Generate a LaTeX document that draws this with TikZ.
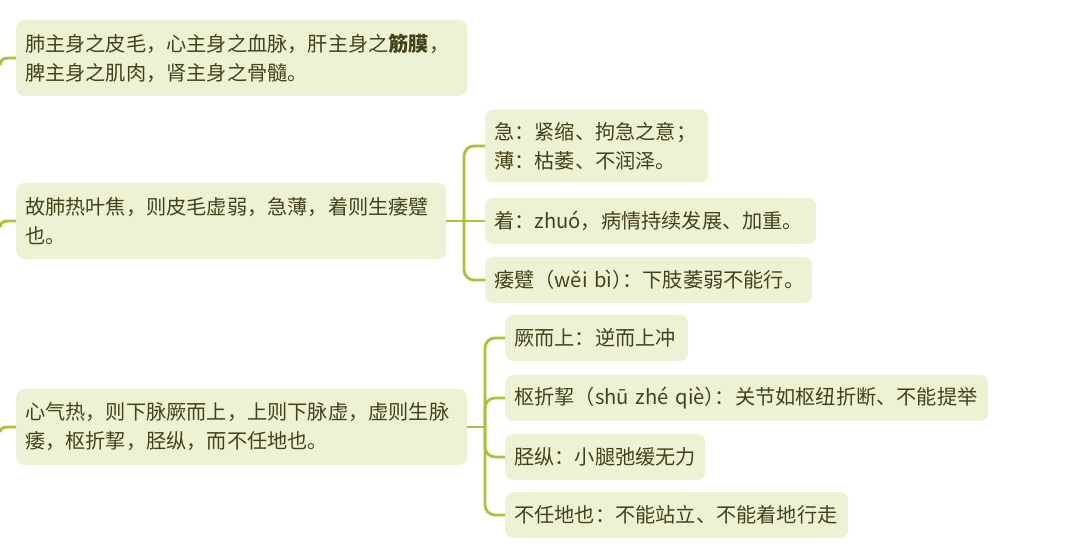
\documentclass[tikz,border=0pt]{standalone}
\usepackage{fontspec}
\setmainfont{Noto Sans CJK SC}
\definecolor{boxfill}{HTML}{EEF2D5}
\definecolor{linkgreen}{HTML}{A6C437}
\definecolor{txtolive}{HTML}{45421A}
\newcommand{\pyclose}{）\kern-0.5em：}
\begin{document}
\begin{tikzpicture}[x=1pt, y=-1pt,
  font=\fontsize{20.2}{29}\selectfont, text=txtolive,
  topic/.style={fill=boxfill, rounded corners=8pt, anchor=west, align=left, inner xsep=9pt, minimum height=76pt},
  leaf/.style={fill=boxfill, rounded corners=8pt, anchor=west, align=left, inner xsep=9pt, minimum height=46pt},
  link/.style={draw=linkgreen, line width=2.8pt, rounded corners=10pt}]
  \useasboundingbox (0,0) rectangle (1080,545);
  % main points
  \node[topic, text width=433pt] (skin) at (16,58) {肺主身之皮毛，心主身之血脉，肝主身之\textbf{筋膜}，\\脾主身之肌肉，肾主身之骨髓。};
  \node[topic, text width=412pt] (lung) at (16,221) {故肺热叶焦，则皮毛虚弱，急薄，着则生痿躄\\也。};
  \node[topic, text width=433pt] (heart) at (16,427) {心气热，则下脉厥而上，上则下脉虚，虚则生脉\\痿，枢折挈，胫纵，而不任地也。};
  % notes on lung heat
  \node[topic, text width=205pt, minimum height=73pt] (ji) at (485,146) {急：紧缩、拘急之意；\\薄：枯萎、不润泽。};
  \node[leaf, text width=313pt] (zhuo) at (485,221) {着：zhuó，病情持续发展、加重。};
  \node[leaf, text width=309pt] (weibi) at (485,280) {痿躄（wěi~bì\pyclose 下肢萎弱不能行。};
  % notes on heart heat
  \node[leaf, text width=165pt] (jue) at (505,338) {厥而上：逆而上冲};
  \node[leaf, text width=465pt] (shu) at (505,398) {枢折挈（shū~zhé~qiè\pyclose 关节如枢纽折断、不能提举};
  \node[leaf, text width=182pt] (jing) at (505,457) {胫纵：小腿弛缓无力};
  \node[leaf, text width=325pt] (bu) at (505,515) {不任地也：不能站立、不能着地行走};
  % stubs from the left
  \coordinate (s1) at (0,65);
  \coordinate (s2) at (0,227);
  \coordinate (s3) at (0,432);
  \draw[link] (s1) .. controls (2,58) .. (skin.west);
  \draw[link] (s2) .. controls (2,221) .. (lung.west);
  \draw[link] (s3) .. controls (2,427) .. (heart.west);
  % branches
  \coordinate (t2) at (464,221);
  \coordinate (t3) at (485,427);
  \draw[link] (lung.east) -- (zhuo.west);
  \draw[link] (t2) |- (ji.west);
  \draw[link] (t2) |- (weibi.west);
  \draw[link] (heart.east) -- (t3);
  \draw[link] (t3) |- (jue.west);
  \draw[link] (t3) |- (shu.west);
  \draw[link] (t3) |- (jing.west);
  \draw[link] (t3) |- (bu.west);
\end{tikzpicture}
\end{document}
